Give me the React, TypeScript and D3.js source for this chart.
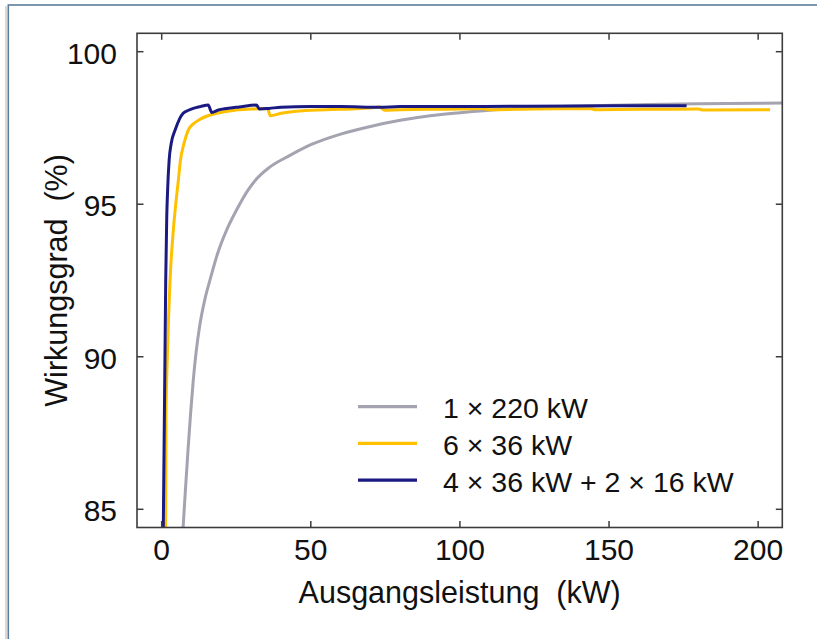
import React from "react";
import * as d3 from "d3";

const W = 817;
const H = 639;

const xTicks = [0, 50, 100, 150, 200];
const yTicks = [85, 90, 95, 100];

const seriesNames = ["1 × 220 kW", "6 × 36 kW", "4 × 36 kW + 2 × 16 kW"];
const seriesColors = ["#a3a3b1", "#ffc000", "#1a1a82"];

// 1 x 220 kW
const grayKW = [6.9, 7.2, 8.0, 8.9, 9.7, 10.6, 11.6, 12.8, 14.4, 16.2, 18.8, 21.8, 25.1, 29.0, 32, 36, 43, 50, 60, 70, 80, 90, 100, 110, 120, 140, 160, 180, 200, 212];
const grayEff = [83.95, 84.43, 85.7, 87.05, 88.15, 89.24, 90.2, 91.05, 91.85, 92.52, 93.4, 94.16, 94.81, 95.47, 95.85, 96.2, 96.6, 96.95, 97.3, 97.55, 97.75, 97.9, 98.0, 98.08, 98.15, 98.22, 98.26, 98.29, 98.31, 98.32];

// 6 x 36 kW
const yelKW = [1.3, 1.45, 1.9, 2.8, 3.9, 4.5, 5.6, 6.3, 7.5, 8.9, 10.8, 12.8, 15.5, 18.4, 21.5, 25, 30, 35.5, 36.4, 40, 45, 55, 65, 71.5, 73, 74.8, 80, 100, 108, 109.5, 125, 144, 145.5, 160, 180, 181.5, 204];
const yelEff = [84.0, 88.15, 90.0, 92.5, 94.15, 94.8, 95.8, 96.45, 97.0, 97.43, 97.65, 97.78, 97.9, 97.98, 98.04, 98.09, 98.12, 98.14, 97.9, 97.98, 98.05, 98.1, 98.13, 98.17, 98.19, 98.08, 98.1, 98.12, 98.14, 98.1, 98.12, 98.13, 98.1, 98.11, 98.12, 98.09, 98.1];

// 4 x 36 kW + 2 x 16 kW
const navKW = [0.5, 0.8, 1.1, 1.35, 1.7, 2.0, 2.5, 3.2, 4.5, 6.0, 7.2, 9, 10.6, 13, 15.6, 16.8, 19, 21.8, 26, 31.8, 32.8, 36, 40, 50, 60, 73, 80, 100, 120, 140, 160, 176];
const navEff = [84.0, 87.0, 90.0, 92.5, 94.6, 95.5, 96.45, 97.0, 97.43, 97.8, 97.98, 98.08, 98.14, 98.2, 98.25, 98.01, 98.09, 98.14, 98.19, 98.25, 98.12, 98.14, 98.18, 98.2, 98.2, 98.18, 98.2, 98.2, 98.21, 98.22, 98.23, 98.23];

const series = [
  { kw: grayKW, eff: grayEff },
  { kw: yelKW, eff: yelEff },
  { kw: navKW, eff: navEff },
];

const plot = { left: 137, right: 782.3, top: 33.3, bottom: 527.5 };

export default function App() {
  const x = d3.scaleLinear().domain([-8.28, 208.1]).range([plot.left, plot.right]);
  const y = d3.scaleLinear().domain([84.403, 100.603]).range([plot.bottom, plot.top]);
  const line = d3
    .line<[number, number]>()
    .x((d) => x(d[0]))
    .y((d) => y(d[1]))
    .curve(d3.curveMonotoneX);

  const font = "'Liberation Sans', Arial, Helvetica, sans-serif";
  const axisColor = "#3c3c3c";
  const tickLen = 6.5;

  return (
    <svg
      width={W}
      height={H}
      style={{ position: "absolute", left: 0, top: 0, background: "#fff" }}
      fontFamily={font}
    >
      <rect x={0} y={0} width={W} height={H} fill="#fff" />
      <line x1={6} y1={6} x2={6} y2={H} stroke="#d8d8d8" strokeWidth={2} />
      <rect x={8.3} y={5} width={W + 20} height={H + 20} fill="#fff" stroke="#5d7e9a" strokeWidth={1.6} />
      <defs>
        <clipPath id="plotClip">
          <rect x={plot.left} y={plot.top} width={plot.right - plot.left} height={plot.bottom - plot.top} />
        </clipPath>
      </defs>

      <g clipPath="url(#plotClip)">
        {series.map((s, i) => (
          <path
            key={i}
            d={line(s.kw.map((k, j) => [k, s.eff[j]] as [number, number])) || ""}
            fill="none"
            stroke={seriesColors[i]}
            strokeWidth={3}
            strokeLinejoin="round"
          />
        ))}
      </g>

      {/* frame */}
      <rect
        x={plot.left}
        y={plot.top}
        width={plot.right - plot.left}
        height={plot.bottom - plot.top}
        fill="none"
        stroke={axisColor}
        strokeWidth={1.6}
      />

      {xTicks.map((t) => (
        <g key={"x" + t}>
          <line x1={x(t)} x2={x(t)} y1={plot.bottom} y2={plot.bottom - tickLen} stroke={axisColor} strokeWidth={1.5} />
          <line x1={x(t)} x2={x(t)} y1={plot.top} y2={plot.top + tickLen} stroke={axisColor} strokeWidth={1.5} />
          <text x={x(t)} y={560} fontSize={30} textAnchor="middle" fill="#111">
            {t}
          </text>
        </g>
      ))}
      {yTicks.map((t) => (
        <g key={"y" + t}>
          <line x1={plot.left} x2={plot.left + tickLen} y1={y(t)} y2={y(t)} stroke={axisColor} strokeWidth={1.5} />
          <line x1={plot.right} x2={plot.right - tickLen} y1={y(t)} y2={y(t)} stroke={axisColor} strokeWidth={1.5} />
          <text x={117} y={y(t) + 12} fontSize={30} textAnchor="end" fill="#111">
            {t}
          </text>
        </g>
      ))}

      <text
        x={(plot.left + plot.right) / 2}
        y={603}
        fontSize={30.5}
        textAnchor="middle"
        fill="#111"
        style={{ whiteSpace: "pre" }}
      >
        {"Ausgangsleistung  (kW)"}
      </text>
      <text
        transform={`translate(67, ${(plot.top + plot.bottom) / 2}) rotate(-90)`}
        fontSize={30.5}
        textAnchor="middle"
        fill="#111"
        style={{ whiteSpace: "pre" }}
      >
        {"Wirkungsgrad  (%)"}
      </text>

      {seriesNames.map((n, i) => {
        const ly = 406.7 + i * 36.7;
        return (
          <g key={n}>
            <line x1={358} x2={417} y1={ly} y2={ly} stroke={seriesColors[i]} strokeWidth={3.3} />
            <text x={443} y={ly + 11.5} fontSize={28.5} fill="#111">
              {n}
            </text>
          </g>
        );
      })}
    </svg>
  );
}
